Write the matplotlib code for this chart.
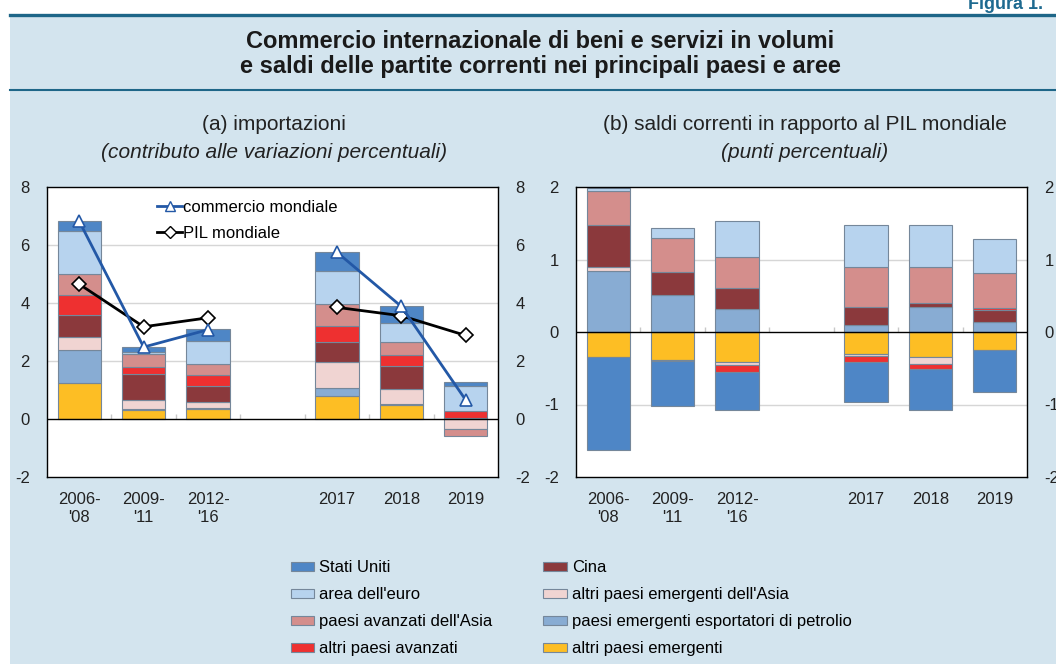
import matplotlib
matplotlib.use("Agg")
import matplotlib.pyplot as plt
from matplotlib.patches import Patch, Rectangle
from matplotlib.lines import Line2D
import numpy as np

plt.rcParams['font.family'] = ['Liberation Sans', 'DejaVu Sans']
plt.rcParams['axes.unicode_minus'] = False

# --- data ---------------------------------------------------------------
categories = ["2006-\n'08", "2009-\n'11", "2012-\n'16", "2017", "2018", "2019"]

series_names = ["Stati Uniti", "area dell'euro", "paesi avanzati dell'Asia",
                "altri paesi avanzati", "Cina", "altri paesi emergenti dell'Asia",
                "paesi emergenti esportatori di petrolio", "altri paesi emergenti"]

# (a) importazioni, contributi
imp_usa = [0.34, 0.19, 0.42, 0.66, 0.58, 0.13]
imp_euro = [1.48, 0.07, 0.79, 1.16, 0.68, 0.89]
imp_asia_adv = [0.72, 0.44, 0.39, 0.76, 0.45, -0.24]
imp_other_adv = [0.71, 0.26, 0.37, 0.52, 0.36, 0.21]
imp_china = [0.73, 0.87, 0.56, 0.70, 0.78, 0.0]
imp_asia_em = [0.46, 0.33, 0.21, 0.90, 0.53, -0.36]
imp_oil = [1.14, 0.04, 0.02, 0.28, 0.04, 0.0]
imp_other_em = [1.24, 0.30, 0.36, 0.79, 0.48, 0.05]

commercio_mondiale = [6.82, 2.48, 3.08, 5.75, 3.88, 0.65]
pil_mondiale = [4.65, 3.18, 3.49, 3.85, 3.56, 2.88]

# (b) saldi correnti in % del PIL mondiale
cab_usa = [-1.28, -0.62, -0.52, -0.54, -0.57, -0.58]
cab_euro = [0.03, 0.14, 0.50, 0.57, 0.58, 0.47]
cab_asia_adv = [0.48, 0.46, 0.42, 0.56, 0.49, 0.48]
cab_other_adv = [0.0, -0.02, -0.09, -0.09, -0.07, 0.03]
cab_china = [0.58, 0.32, 0.29, 0.24, 0.06, 0.16]
cab_asia_em = [0.05, 0.0, -0.04, -0.03, -0.09, 0.0]
cab_oil = [0.84, 0.51, 0.32, 0.10, 0.34, 0.14]
cab_other_em = [-0.35, -0.38, -0.42, -0.30, -0.35, -0.25]

colors = ['#4E86C6', '#B7D3EE', '#D48E8C', '#EE3030',
          '#8B393C', '#F0D4D2', '#88ACD3', '#FDBE24']
edge = '#75879a'
bg = '#D3E4EE'
dark = '#1E6688'

# x positions with an empty slot between the period averages and the years
x = np.arange(len(categories)) + (np.arange(len(categories)) >= 3)

fig = plt.figure(figsize=(10.56, 6.64), dpi=100, facecolor=bg)
W, H = 1056, 664

# white margins + header rules
fig.patches.append(Rectangle((0, 0), 10 / W, 1, transform=fig.transFigure,
                             facecolor='white', edgecolor='none', zorder=0))
fig.patches.append(Rectangle((0, 1 - 14 / H), 1, 14 / H, transform=fig.transFigure,
                             facecolor='white', edgecolor='none', zorder=0))
fig.add_artist(Line2D([10 / W, 1], [1 - 15 / H] * 2, color=dark, lw=2.4))
fig.add_artist(Line2D([10 / W, 1], [1 - 89.5 / H] * 2, color=dark, lw=1.5))

fig.text(968 / W, 1 - 9 / H, "Figura 1.", color='#1E6A90', fontsize=13,
         fontweight='bold', va='baseline', ha='left')
fig.text(540 / W, 1 - 42 / H, "Commercio internazionale di beni e servizi in volumi",
         ha='center', va='center', fontsize=17, fontweight='bold', color='#1a1a1a')
fig.text(540 / W, 1 - 67 / H, "e saldi delle partite correnti nei principali paesi e aree",
         ha='center', va='center', fontsize=17, fontweight='bold', color='#1a1a1a')

ax1 = fig.add_axes([47 / W, 1 - 477 / H, 451 / W, 290 / H])
ax2 = fig.add_axes([576 / W, 1 - 477 / H, 451 / W, 290 / H])

fig.text(274 / W, 1 - 125 / H, "(a) importazioni", ha='center', va='center',
         fontsize=15, color='#222222')
fig.text(274 / W, 1 - 153 / H, "(contributo alle variazioni percentuali)",
         ha='center', va='center', fontsize=15, style='italic', color='#222222')
fig.text(805 / W, 1 - 125 / H, "(b) saldi correnti in rapporto al PIL mondiale",
         ha='center', va='center', fontsize=15, color='#222222')
fig.text(805 / W, 1 - 153 / H, "(punti percentuali)", ha='center', va='center',
         fontsize=15, style='italic', color='#222222')


def stacked(ax, data):
    pos_base = np.zeros(len(x))
    neg_base = np.zeros(len(x))
    # stack from the last legend entry upwards
    for vals, col in reversed(list(zip(data, colors))):
        v = np.array(vals)
        for mask, base in ((v > 0, pos_base), (v < 0, neg_base)):
            if mask.any():
                ax.bar(x[mask], v[mask], 0.67, bottom=base[mask], color=col,
                       edgecolor=edge, linewidth=0.8, zorder=2)
                base[mask] += v[mask]


def style(ax, ylim, step):
    ax.set_facecolor('white')
    ax.set_xlim(-0.5, 6.5)
    ax.set_ylim(*ylim)
    ax.set_yticks(np.arange(ylim[0], ylim[1] + step / 2, step))
    for g in np.arange(ylim[0] + step, ylim[1], step):
        if g != 0:
            ax.axhline(g, color='#d6d6d6', lw=1, zorder=0)
    ax.axhline(0, color='black', lw=1, zorder=3)
    th = (ylim[1] - ylim[0]) * 5 / 290
    ax.vlines(np.arange(0.5, 6.5, 1), 0, th, color='#c8c8c8', lw=1, zorder=1)
    ax.set_xticks(x)
    ax.set_xticklabels(categories, linespacing=1.25)
    ax.tick_params(axis='x', bottom=False, pad=7, labelsize=12, labelcolor='#222222')
    ax.tick_params(axis='y', left=False, right=False, labelleft=True,
                   labelright=True, pad=9, labelsize=12, labelcolor='#222222')
    for s in ax.spines.values():
        s.set_color('black')
        s.set_linewidth(1)


stacked(ax1, [imp_usa, imp_euro, imp_asia_adv, imp_other_adv, imp_china,
              imp_asia_em, imp_oil, imp_other_em])
stacked(ax2, [cab_usa, cab_euro, cab_asia_adv, cab_other_adv, cab_china,
              cab_asia_em, cab_oil, cab_other_em])
style(ax1, (-2, 8), 2)
style(ax2, (-2, 2), 1)

# world trade and GDP lines, broken across the gap
cm = np.array(commercio_mondiale)
pm = np.array(pil_mondiale)
for sl in (slice(0, 3), slice(3, 6)):
    ax1.plot(x[sl], cm[sl], color='#2358A6', lw=2, marker='^', ms=9,
             mfc='white', mec='#2358A6', mew=1.2, zorder=5)
    ax1.plot(x[sl], pm[sl], color='black', lw=2, marker='D', ms=7,
             mfc='white', mec='black', mew=1.2, zorder=4)

line_handles = [
    Line2D([], [], color='#2358A6', lw=2, marker='^', ms=7, mfc='white', mec='#2358A6'),
    Line2D([], [], color='black', lw=2, marker='D', ms=6, mfc='white', mec='black'),
]
fig.legend(line_handles, ["commercio mondiale", "PIL mondiale"],
           loc='upper left', bbox_to_anchor=(157 / W, 1 - 200 / H),
           frameon=False, fontsize=12, borderpad=0, borderaxespad=0,
           handlelength=1.5, handletextpad=0.05, labelspacing=0.68)

patch_handles = [Patch(facecolor=c, edgecolor=edge, linewidth=0.8) for c in colors]
fig.legend(patch_handles, series_names, ncol=2, loc='upper left',
           bbox_to_anchor=(291 / W, 1 - 560 / H), frameon=False, fontsize=12,
           borderpad=0, borderaxespad=0, handlelength=1.4, handleheight=0.46,
           handletextpad=0.3, labelspacing=0.72, columnspacing=3.05)

fig.savefig("out.png", dpi=100, facecolor=bg)
